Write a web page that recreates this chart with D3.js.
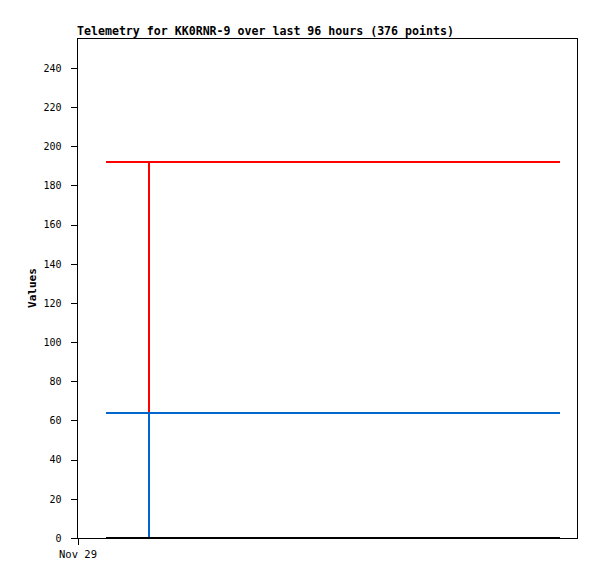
<!DOCTYPE html>
<html>
<head>
<meta charset="utf-8">
<script src="https://cdn.jsdelivr.net/npm/d3@7"></script>
<style>
  body { margin: 0; background: #fff; }
  svg { display: block; }
</style>
</head>
<body>
<svg id="chart" width="597" height="579"></svg>
<script>
// ============================= Datos =========================//
var titulo = "Telemetry for KK0RNR-9 over last 96 hours (376 points)";
var etiquetaY = "Values";
var etiquetaX = ["Nov 29"];
var ticksX = [0];           // horas desde Nov 29 00:00
var ticksY = [0, 20, 40, 60, 80, 100, 120, 140, 160, 180, 200, 220, 240];

// horas desde Nov 29 00:00
var horas = [6.13, 15.2, 15.2, 15.25, 15.25, 102.1];
var canalRojo = [192, 192, 96, 64, 192, 192];
var canalAzul = [64, 64, 32, 0, 64, 64];
var canalNegro = [0, 0, 0, 0, 0, 0];

var series = [
  { nombre: "rojo", valores: canalRojo, color: "#ff0000" },
  { nombre: "azul", valores: canalAzul, color: "#0066cc" },
  { nombre: "negro", valores: canalNegro, color: "#000000" }
];

// ============================= Escalas =========================//
var margen = { top: 38, right: 20, bottom: 41, left: 77 };
var ancho = 597 - margen.left - margen.right;
var alto = 579 - margen.top - margen.bottom;

var svg = d3.select("#chart");
var g = svg.append("g").attr("transform", "translate(" + margen.left + "," + margen.top + ")");

var x = d3.scaleLinear().domain([0, 105.7]).range([0, ancho]);
var y = d3.scaleLinear().domain([0, 255.3]).range([alto, 0]);

// ============================= Lineas =========================//
var linea = d3.line()
  .x(function(d) { return x(d.t); })
  .y(function(d) { return y(d.v); });

series.forEach(function(s) {
  var puntos = horas.map(function(h, i) { return { t: h, v: s.valores[i] }; });
  g.append("path")
    .datum(puntos)
    .attr("fill", "none")
    .attr("stroke", s.color)
    .attr("stroke-width", 2)
    .attr("shape-rendering", "crispEdges")
    .attr("d", linea);
});

// ============================= Marco y ejes =========================//
g.append("rect")
  .attr("x", 0.5).attr("y", 0.5)
  .attr("width", ancho).attr("height", alto)
  .attr("fill", "none")
  .attr("stroke", "#000")
  .attr("stroke-width", 1)
  .attr("shape-rendering", "crispEdges");

var ejeY = d3.axisLeft(y).tickValues(ticksY).tickSize(7).tickPadding(9);
g.append("g")
  .attr("class", "eje-y")
  .attr("transform", "translate(0.5,0)")
  .call(ejeY)
  .call(function(a) { a.select(".domain").remove(); })
  .selectAll("text")
    .attr("font-family", "DejaVu Sans Mono, monospace")
    .attr("font-size", "10px")
    .attr("fill", "#000");

var ejeX = d3.axisBottom(x).tickValues(ticksX)
  .tickFormat(function(d, i) { return etiquetaX[i]; })
  .tickSize(7).tickPadding(6);
g.append("g")
  .attr("class", "eje-x")
  .attr("transform", "translate(0.5," + alto + ")")
  .call(ejeX)
  .call(function(a) { a.select(".domain").remove(); })
  .selectAll("text")
    .attr("font-family", "DejaVu Sans Mono, monospace")
    .attr("font-size", "10.5px")
    .attr("fill", "#000");

g.selectAll(".tick line").attr("shape-rendering", "crispEdges");

// ============================= Textos =========================//
svg.append("text")
  .attr("x", 77)
  .attr("y", 35)
  .attr("font-family", "DejaVu Sans Mono, monospace")
  .attr("font-weight", "bold")
  .attr("font-size", "11.6px")
  .attr("fill", "#000")
  .text(titulo);

svg.append("text")
  .attr("transform", "translate(36,288) rotate(-90)")
  .attr("text-anchor", "middle")
  .attr("font-family", "DejaVu Sans Mono, monospace")
  .attr("font-weight", "bold")
  .attr("font-size", "11px")
  .attr("fill", "#000")
  .text(etiquetaY);
</script>
</body>
</html>
